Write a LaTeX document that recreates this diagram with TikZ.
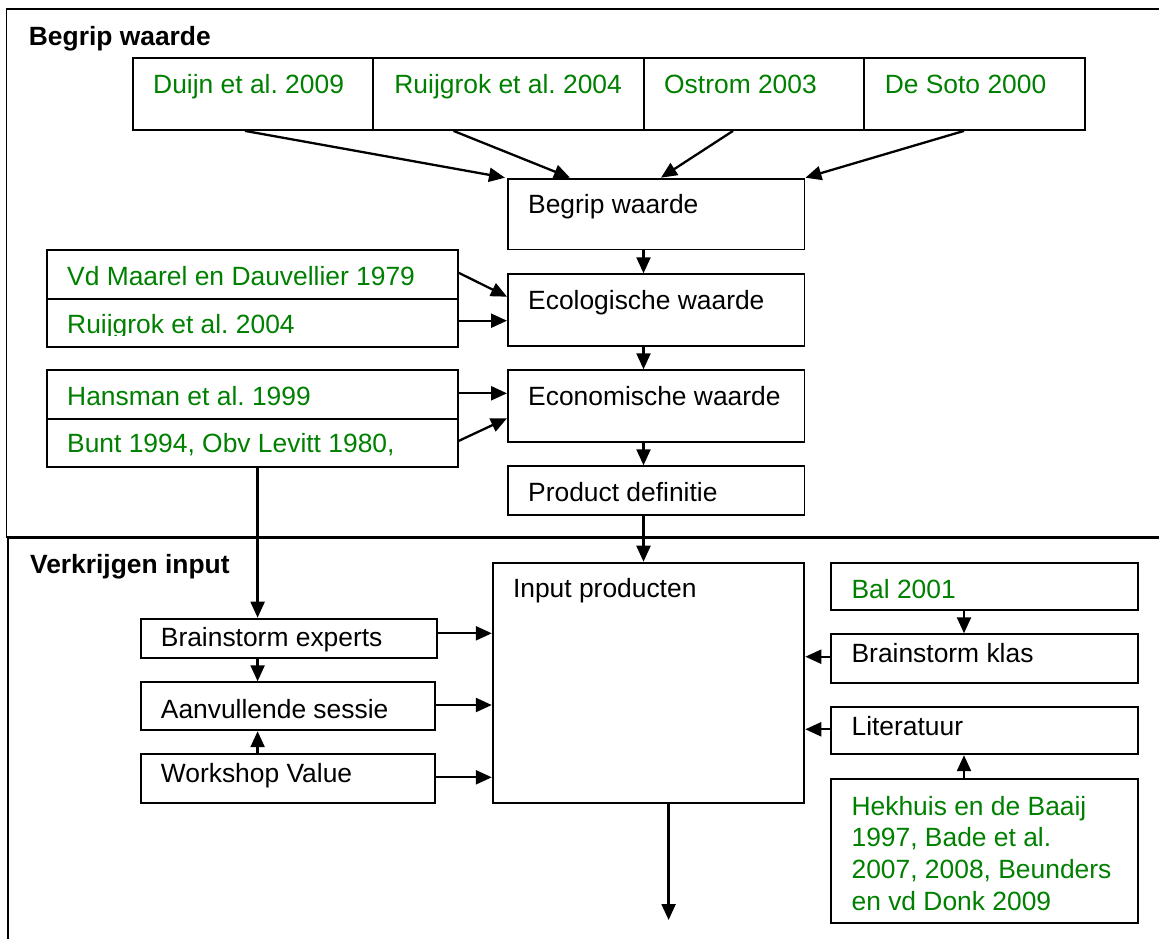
\documentclass[tikz,border=0pt]{standalone}
\usepackage{fontspec}
\setmainfont{Liberation Sans}
\usetikzlibrary{arrows.meta}
\definecolor{refgreen}{RGB}{0,128,0}
\tikzset{
  box/.style={draw=black, line width=1.9pt, inner sep=0pt, anchor=north west, rectangle},
  frame/.style={draw=black, line width=1.9pt},
  txt/.style={anchor=base west, inner sep=0pt, font=\fontsize{26.4}{31.7}\selectfont},
  ref/.style={txt, text=refgreen},
  title/.style={txt, font=\fontsize{26.4}{31.7}\selectfont\bfseries},
  arr/.style={draw=black, line width=2.3pt, -{Triangle[length=16pt,width=14pt]}},
}
% \mkbox{name}{x1}{y1}{x2}{y2}: rectangle node from its top-left to bottom-right corner
\newcommand{\mkbox}[5]{%
  \node[box, minimum width={(#4-#2)*1pt}, minimum height={(#5-#3)*1pt}] (#1) at (#2,#3) {};}
\begin{document}
\frenchspacing
\begin{tikzpicture}[x=1pt,y=-1pt]
\useasboundingbox (0,0) rectangle (1159,939);
\clip (0,0) rectangle (1159,939);
\fill[white] (0,0) rectangle (1159,939);

% section frames
\draw[frame] (1200,9) -- (6.5,9) -- (6.5,537) -- (1200,537);
\draw[frame] (1200,538.5) -- (8,538.5) -- (8,980);

% section titles
\node[title] (t1) at (28.7,45.7) {Begrip waarde};
\node[title] (t2) at (29.9,573.3) {Verkrijgen input};

% references row
\mkbox{duijn}{132}{57.3}{372.4}{129}
\mkbox{ruijA}{372.4}{57.3}{642.8}{129}
\mkbox{ostrom}{642.8}{57.3}{863.2}{129}
\mkbox{soto}{863.2}{57.3}{1084}{129}
\node[ref] (duijn-t) at (153,93.3) {Duijn et al. 2009};
\node[ref] (ruijA-t) at (394.2,93.3) {Ruijgrok et al. 2004};
\node[ref] (ostrom-t) at (664,93.3) {Ostrom 2003};
\node[ref] (soto-t) at (884.6,93.3) {De Soto 2000};

% main chain
\mkbox{begrip}{507}{177.7}{803.5}{248.5}
\mkbox{eco}{507}{273.3}{803.5}{345}
\mkbox{econ}{507}{369.3}{803.5}{441}
\mkbox{prod}{507}{465.3}{803.5}{513.7}
\node[txt] (begrip-t) at (528,213) {Begrip waarde};
\node[txt] (eco-t) at (528,309.3) {Ecologische waarde};
\node[txt] (econ-t) at (528,405) {Economische waarde};
\node[txt] (prod-t) at (528,501.7) {Product definitie};

% left reference pairs
\mkbox{vd}{46}{249}{456.6}{297.7}
\mkbox{ruijB}{46}{297.7}{456.6}{345.7}
\mkbox{hans}{46}{369.3}{456.6}{417.7}
\mkbox{bunt}{46}{417.7}{456.6}{465.7}
\node[ref] (vd-t) at (67,285) {Vd Maarel en Dauvellier 1979};
\begin{scope}
  \clip (46,297.7) rectangle (456.6,335.6);
  \node[ref] (ruijB-t) at (67,333.3) {Ruijgrok et al. 2004};
\end{scope}
\node[ref] (hans-t) at (67,405) {Hansman et al. 1999};
\node[ref] (bunt-t) at (67,452.7) {Bunt 1994, Obv Levitt 1980,};

% input section
\mkbox{input}{491.8}{561.7}{803.4}{801.7}
\node[txt] (input-t) at (512.8,597.3) {Input producten};
\mkbox{bexp}{139.7}{617.7}{436.3}{657}
\mkbox{aanv}{139.7}{681.3}{434.4}{729.3}
\mkbox{work}{139.7}{753.3}{434.4}{801.7}
\node[txt] (bexp-t) at (160.7,646) {Brainstorm experts};
\node[txt] (aanv-t) at (160.7,718.3) {Aanvullende sessie};
\node[txt] (work-t) at (160.7,782.3) {Workshop Value};
\mkbox{bal}{830}{561.7}{1137}{609.3}
\mkbox{bklas}{830}{633.3}{1137}{681.7}
\mkbox{lit}{830}{705.7}{1137}{753.3}
\mkbox{hek}{830}{777.7}{1137}{921.7}
\node[ref] (bal-t) at (851.4,598.3) {Bal 2001};
\node[txt] (bklas-t) at (851.4,662.7) {Brainstorm klas};
\node[txt] (lit-t) at (851.4,735) {Literatuur};
% base of a multi-line node is the baseline of its last line
\node[ref, align=left, anchor=base west] (hek-t) at (851.4,910.1)
  {Hekhuis en de Baaij\\1997, Bade et al.\\2007, 2008, Beunders\\en vd Donk 2009};

% connectors: references to Begrip waarde
\draw[arr] (duijn.south -| 245,0) -- (begrip.north -| 505,0);
\draw[arr] (ruijA.south -| 453.5,0) -- (begrip.north -| 570,0);
\draw[arr] (ostrom.south -| 733,0) -- (begrip.north -| 661,0);
\draw[arr] (soto.south -| 964,0) -- (begrip.north east);

% main chain
\draw[arr] (begrip.south -| 643.5,0) -- (eco.north -| 643.5,0);
\draw[arr] (eco.south -| 643.5,0) -- (econ.north -| 643.5,0);
\draw[arr] (econ.south -| 643.5,0) -- (prod.north -| 643.5,0);
\draw[arr] (prod.south -| 643.5,0) -- (input.north -| 643.5,0);

% side references
\draw[arr] (vd.east |- 0,272.7) -- (eco.west |- 0,296.7);
\draw[arr] (ruijB.east |- 0,320.7) -- (eco.west |- 0,320.7);
\draw[arr] (hans.east |- 0,393.3) -- (econ.west |- 0,393.3);
\draw[arr] (bunt.east |- 0,441) -- (econ.west |- 0,418.3);

% input sources
\draw[arr] (bunt.south -| 257.6,0) -- (bexp.north -| 257.6,0);
\draw[arr] (bexp.south -| 257.6,0) -- (aanv.north -| 257.6,0);
\draw[arr] (work.north -| 257.6,0) -- (aanv.south -| 257.6,0);
\draw[arr] (bexp.east |- 0,633.3) -- (input.west |- 0,633.3);
\draw[arr] (aanv.east |- 0,705) -- (input.west |- 0,705);
\draw[arr] (work.east |- 0,777.3) -- (input.west |- 0,777.3);
\draw[arr] (bal.south -| 964,0) -- (bklas.north -| 964,0);
\draw[arr] (bklas.west |- 0,656.7) -- (input.east |- 0,656.7);
\draw[arr] (lit.west |- 0,729.3) -- (input.east |- 0,729.3);
\draw[arr] (hek.north -| 964,0) -- (lit.south -| 964,0);

% output
\coordinate (out) at (668.6,920);
\draw[arr] (input.south -| out) -- (out);
\end{tikzpicture}
\end{document}
